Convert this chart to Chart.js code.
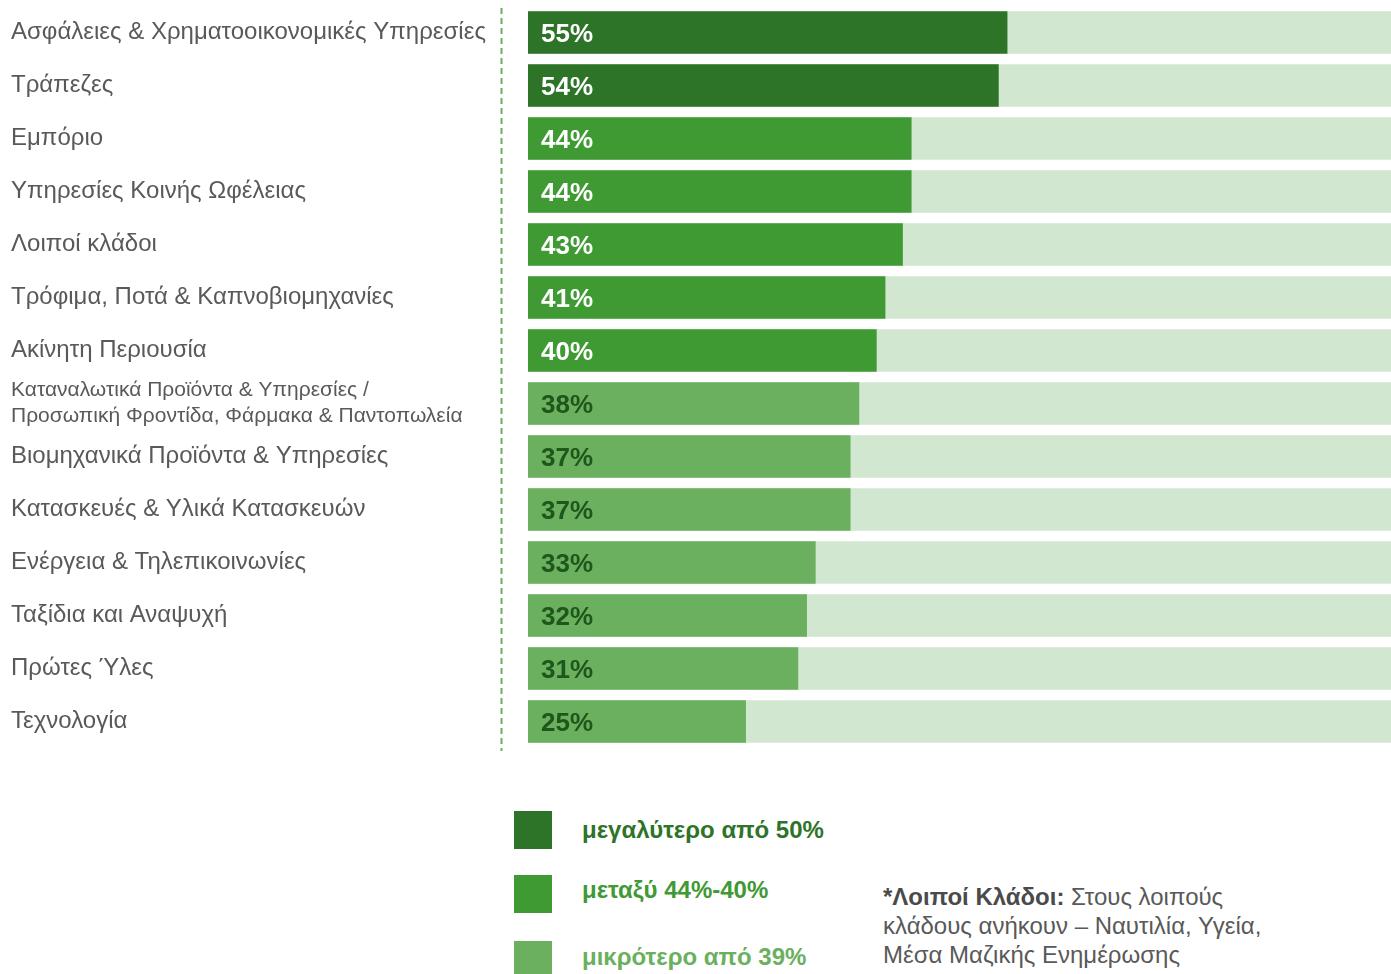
<!DOCTYPE html>
<html lang="el">
<head>
<meta charset="utf-8">
<title>Κλάδοι</title>
<script src="https://cdn.jsdelivr.net/npm/chart.js@4"></script>
<style>
    html, body { margin: 0; padding: 0; background: #fff; overflow: hidden; }
    body { font-family: "Liberation Sans", Arial, sans-serif; }
    #wrap { position: relative; width: 1391px; height: 974px; }
    #chartBox { position: absolute; left: 0; top: 0; width: 1391px; height: 760px; }
    .key { position: absolute; left: 514px; width: 38px; height: 38px; }
    .keyText { position: absolute; left: 582px; font-size: 24px; font-weight: bold; line-height: 28px; }
    #note { position: absolute; left: 883px; top: 882px; font-size: 24px; line-height: 29px; color: #595959; }
    #note b { color: #4a4a4a; }
</style>
</head>
<body>
<div id="wrap">
    <div id="chartBox"><canvas id="sectorChart"></canvas></div>

    <div class="key" style="top:811px;background:#2e7428"></div>
    <div class="keyText" style="top:816px;color:#2e7428">μεγαλύτερο από 50%</div>
    <div class="key" style="top:875px;background:#3f9a34"></div>
    <div class="keyText" style="top:876px;color:#3f9a34">μεταξύ 44%-40%</div>
    <div class="key" style="top:941px;background:#6ab05e"></div>
    <div class="keyText" style="top:943px;color:#6ab05e">μικρότερο από 39%</div>

    <div id="note"><b>*Λοιποί Κλάδοι:</b> Στους λοιπούς<br>κλάδους ανήκουν – Ναυτιλία, Υγεία,<br>Μέσα Μαζικής Ενημέρωσης</div>
</div>

<script>
// Sectors and their share (%)
const sectors = [
    'Ασφάλειες & Χρηματοοικονομικές Υπηρεσίες',
    'Τράπεζες',
    'Εμπόριο',
    'Υπηρεσίες Κοινής Ωφέλειας',
    'Λοιποί κλάδοι',
    'Τρόφιμα, Ποτά & Καπνοβιομηχανίες',
    'Ακίνητη Περιουσία',
    ['Καταναλωτικά Προϊόντα & Υπηρεσίες /', 'Προσωπική Φροντίδα, Φάρμακα & Παντοπωλεία'],
    'Βιομηχανικά Προϊόντα & Υπηρεσίες',
    'Κατασκευές & Υλικά Κατασκευών',
    'Ενέργεια & Τηλεπικοινωνίες',
    'Ταξίδια και Αναψυχή',
    'Πρώτες Ύλες',
    'Τεχνολογία'
];
const shares = [55, 54, 44, 44, 43, 41, 40, 38, 37, 37, 33, 32, 31, 25];
const fullTrack = sectors.map(() => 100);

// colour bands
const DARK = '#2e7428';
const MID = '#3f9a34';
const LIGHT = '#6ab05e';
const TRACK = '#d2e7cf';

function bandColor(v) {
    if (v >= 50) return DARK;
    if (v >= 40) return MID;
    return LIGHT;
}

// green dashed divider between the labels and the bars
const dividerPlugin = {
    id: 'divider',
    beforeDraw(chart) {
        const { ctx, chartArea } = chart;
        const x = chartArea.left - 26.5;
        ctx.save();
        ctx.strokeStyle = '#6ab05e';
        ctx.lineWidth = 2;
        ctx.setLineDash([6, 4]);
        ctx.beginPath();
        ctx.moveTo(x, chartArea.top + 2);
        ctx.lineTo(x, chartArea.bottom + 3);
        ctx.stroke();
        ctx.restore();
    }
};

// percentage text inside each bar
const valueLabels = {
    id: 'valueLabels',
    afterDatasetsDraw(chart) {
        const { ctx } = chart;
        const meta = chart.getDatasetMeta(0);
        ctx.save();
        ctx.font = 'bold 26px "Liberation Sans", Arial, sans-serif';
        ctx.textBaseline = 'middle';
        ctx.textAlign = 'left';
        meta.data.forEach((bar, i) => {
            const v = shares[i];
            ctx.fillStyle = v >= 40 ? '#ffffff' : '#1f561b';
            ctx.fillText(v + '%', bar.base + 13, bar.y + 2);
        });
        ctx.restore();
    }
};

new Chart(document.getElementById('sectorChart'), {
    type: 'bar',
    data: {
        labels: sectors,
        datasets: [
            {
                data: shares,
                backgroundColor: shares.map(bandColor),
                grouped: false,
                barPercentage: 0.8,
                categoryPercentage: 1
            },
            {
                data: fullTrack,
                backgroundColor: TRACK,
                grouped: false,
                barPercentage: 0.8,
                categoryPercentage: 1
            }
        ]
    },
    options: {
        indexAxis: 'y',
        responsive: true,
        maintainAspectRatio: false,
        animation: false,
        layout: { padding: { left: 11, right: 0, top: 6, bottom: 12 } },
        plugins: {
            legend: { display: false },
            tooltip: { enabled: false }
        },
        scales: {
            x: {
                display: false,
                min: 0,
                max: 99
            },
            y: {
                grid: { display: false },
                border: { display: false },
                afterFit(scale) {
                    scale.width = 517;
                    scale.paddingTop = 0;
                    scale.paddingBottom = 0;
                },
                ticks: {
                    autoSkip: false,
                    crossAlign: 'far',
                    color: '#595959',
                    font: (c) => ({
                        family: '"Liberation Sans", Arial, sans-serif',
                        size: c.index === 7 ? 21 : 24,
                        lineHeight: c.index === 7 ? 1.24 : 1.2
                    })
                }
            }
        }
    },
    plugins: [dividerPlugin, valueLabels]
});
</script>
</body>
</html>
